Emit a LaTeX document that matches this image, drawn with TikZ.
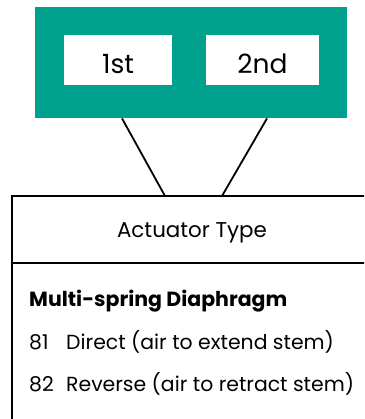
\documentclass[tikz,border=0pt]{standalone}
\usepackage{fontspec}
\setmainfont{Poppins}
\definecolor{teal}{RGB}{0,161,140}
\begin{document}
\begin{tikzpicture}[x=1pt,y=-1pt,
  tealbox/.style={fill=teal,draw=none,inner sep=0pt,anchor=north west},
  whitebox/.style={fill=white,draw=none,inner sep=0pt,anchor=north west},
  boxlabel/.style={font=\fontsize{26.5}{30}\selectfont,inner sep=0pt,anchor=base},
  framebox/.style={draw=none,fill=none,inner sep=0pt,anchor=north west},
  frameline/.style={draw=black,line width=2pt},
  conn/.style={draw=black,line width=1.8pt},
  bodytext/.style={anchor=base west,inner sep=0pt,font=\fontsize{20.4}{24}\selectfont}]
\useasboundingbox (0,0) rectangle (364,419);
\clip (0,0) rectangle (364,419);
\node[tealbox,minimum width=312pt,minimum height=111pt] (teal) at (35,7) {};
\node[whitebox,minimum width=108pt,minimum height=50pt] (first) at (64,35) {};
\node[boxlabel] (l1) at (118,74) {1st};
\node[whitebox,minimum width=113pt,minimum height=50pt] (second) at (206,35) {};
\node[boxlabel] (l2) at (262.5,74) {2nd};
\node[framebox,minimum width=400pt,minimum height=260pt] (lower) at (12,196) {};
\draw[frameline] (lower.north east) -- (lower.north west) -- (lower.south west);
\coordinate (divl) at (12,263);
\draw[frameline] (divl) -- ++(400,0);
\draw[conn] ([xshift=87pt]teal.south west) -- ([xshift=153pt]lower.north west);
\draw[conn] ([xshift=232pt]teal.south west) -- ([xshift=210pt]lower.north west);
\node[anchor=base,inner sep=0pt,font=\fontsize{21.4}{24}\selectfont] (hdr) at (192,237.7) {Actuator Type};
\node[bodytext,font=\fontsize{20.5}{24}\bfseries\selectfont] (ms) at (29,306) {Multi-spring Diaphragm};
\node[bodytext] (n81) at (29,349) {81};
\node[bodytext] (t81) at (66,349) {Direct (air to extend stem)};
\node[bodytext] (n82) at (29,391) {82};
\node[bodytext] (t82) at (66,391) {Reverse (air to retract stem)};
\end{tikzpicture}
\end{document}
